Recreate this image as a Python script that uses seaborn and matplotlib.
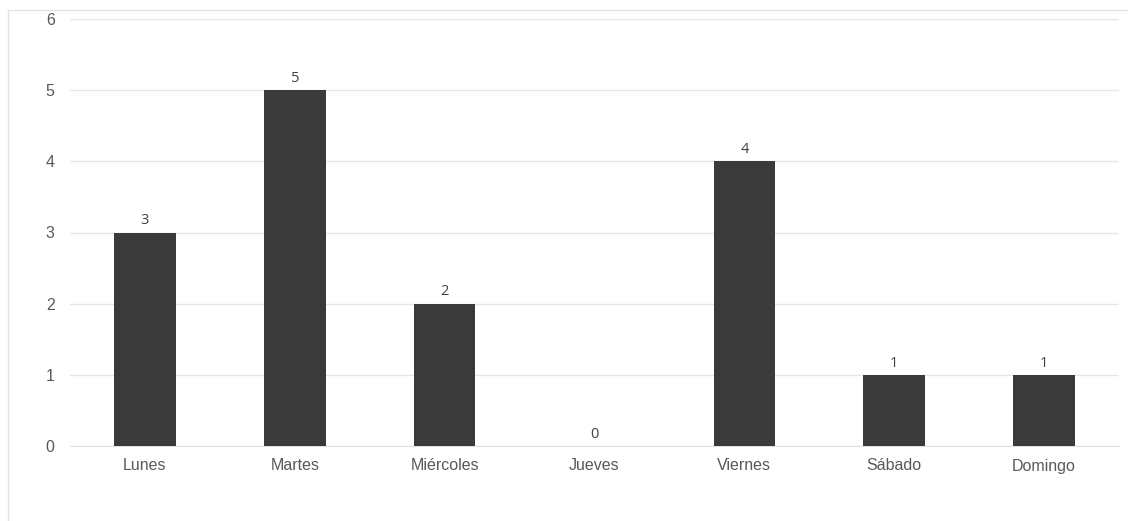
import matplotlib
matplotlib.use("Agg")
import pandas as pd
import seaborn as sns
import matplotlib.pyplot as plt

# data
dias = ["Lunes", "Martes", "Miércoles", "Jueves", "Viernes", "Sábado", "Domingo"]
valores = [3, 5, 2, 0, 4, 1, 1]
yticks = [0, 1, 2, 3, 4, 5, 6]

df = pd.DataFrame({"dia": dias, "valor": valores})

sns.set_style("white")
plt.rcParams["font.family"] = ["Liberation Sans", "DejaVu Sans"]

fig = plt.figure(figsize=(11.28, 5.21), dpi=100)
ax = fig.add_axes([70 / 1128, 1 - 446 / 521, (1119 - 70) / 1128, (446 - 19) / 521])

sns.barplot(data=df, x="dia", y="valor", color="#3a3a3a", width=0.41,
            saturation=1, linewidth=0, ax=ax, zorder=3)

# value labels above bars
for i, v in enumerate(valores):
    ax.text(i, v + 0.06, str(v), ha="center", va="bottom", fontsize=10.5,
            color="#404040", family=["Open Sans", "DejaVu Sans"])

ax.set_ylim(0, 6)
ax.set_xlim(-0.5, len(dias) - 0.5)
ax.set_yticks(yticks)
ax.yaxis.grid(True, color="#e6e6e6", linewidth=1, zorder=0)
ax.set_axisbelow(True)
for s in ["top", "right", "left"]:
    ax.spines[s].set_visible(False)
ax.spines["bottom"].set_color("#e0e0e0")
ax.tick_params(axis="both", length=0, labelsize=11.5, labelcolor="#595959")
ax.tick_params(axis="y", pad=11)
ax.tick_params(axis="x", pad=9)
ax.set_xlabel("")
ax.set_ylabel("")

# light frame of the chart area (only left and top visible)
fig.patches.append(plt.Rectangle((8 / 1128, -0.1), 1.5, (521 - 10) / 521 + 0.1,
                                 transform=fig.transFigure, fill=False,
                                 edgecolor="#e3e3e3", linewidth=1))

plt.savefig("out.png", dpi=100)
